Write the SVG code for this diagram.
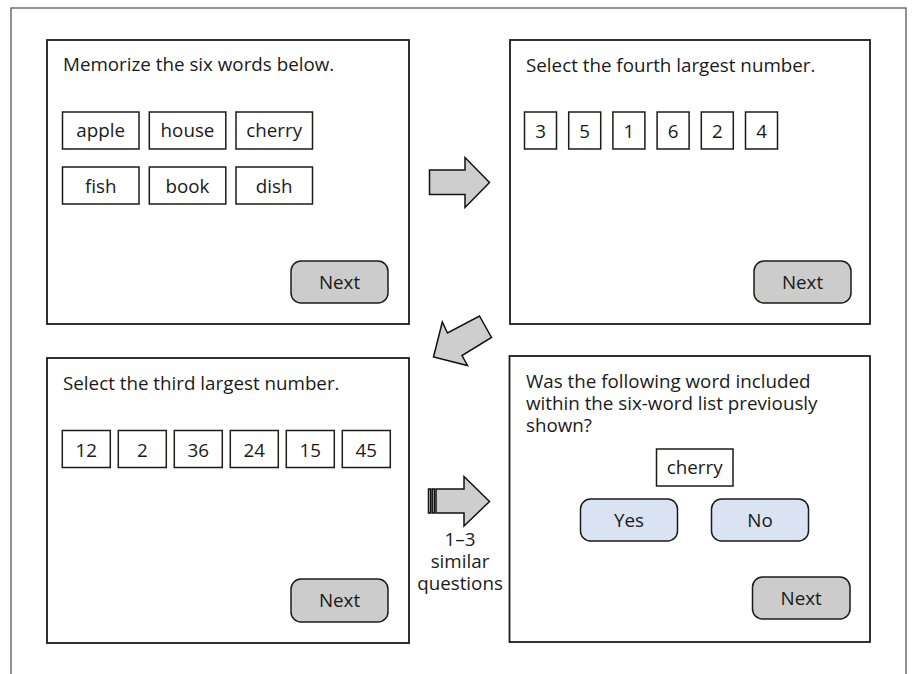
<svg xmlns="http://www.w3.org/2000/svg" width="912" height="674" viewBox="0 0 912 674">
  <style>
    .frame { fill: none; stroke: #5a5a5a; stroke-width: 1.3; }
    .panel { fill: #ffffff; stroke: #1d1b18; stroke-width: 1.8; }
    .box { fill: #ffffff; stroke: #1d1b18; stroke-width: 1.5; }
    .btn { fill: #cbcccb; stroke: #1d1b18; stroke-width: 1.5; }
    .choice { fill: #dae3f3; stroke: #1d1b18; stroke-width: 1.5; }
    .arrow { fill: #cdcecd; stroke: #111111; stroke-width: 1.5; stroke-linejoin: miter; }
    text { font-family: "Open Sans", "Noto Sans", "Liberation Sans", sans-serif; font-size: 18.8px; fill: #1a1a1a; }
    .c { text-anchor: middle; }
  </style>

  <!-- outer border (open at the bottom) -->
  <rect class="frame" x="11" y="8" width="895" height="720"/>

  <!-- screen 1: word list -->
  <g id="screen-memorize">
    <rect class="panel" x="47" y="40" width="362" height="284"/>
    <text x="63" y="71">Memorize the six words below.</text>
    <rect class="box" x="62.5" y="112" width="76.5" height="37"/>
    <rect class="box" x="149.3" y="112" width="76.5" height="37"/>
    <rect class="box" x="236" y="112" width="76.5" height="37"/>
    <rect class="box" x="62.5" y="167" width="76.5" height="37"/>
    <rect class="box" x="149.3" y="167" width="76.5" height="37"/>
    <rect class="box" x="236" y="167" width="76.5" height="37"/>
    <text class="c" x="100.7" y="136.5">apple</text>
    <text class="c" x="187.5" y="136.5">house</text>
    <text class="c" x="274.2" y="136.5">cherry</text>
    <text class="c" x="100.7" y="193">fish</text>
    <text class="c" x="187.5" y="193">book</text>
    <text class="c" x="274.2" y="193">dish</text>
    <rect class="btn" x="291" y="261" width="97" height="42" rx="10"/>
    <text class="c" x="339.5" y="288.5">Next</text>
  </g>

  <!-- screen 2: fourth largest -->
  <g id="screen-fourth">
    <rect class="panel" x="510" y="40" width="360" height="284"/>
    <text x="526" y="72">Select the fourth largest number.</text>
    <rect class="box" x="524.5" y="112" width="32" height="37"/>
    <rect class="box" x="568.7" y="112" width="32" height="37"/>
    <rect class="box" x="612.9" y="112" width="32" height="37"/>
    <rect class="box" x="657.1" y="112" width="32" height="37"/>
    <rect class="box" x="701.3" y="112" width="32" height="37"/>
    <rect class="box" x="745.5" y="112" width="32" height="37"/>
    <text class="c" x="540.5" y="138">3</text>
    <text class="c" x="584.7" y="138">5</text>
    <text class="c" x="628.9" y="138">1</text>
    <text class="c" x="673.1" y="138">6</text>
    <text class="c" x="717.3" y="138">2</text>
    <text class="c" x="761.5" y="138">4</text>
    <rect class="btn" x="754" y="261" width="97" height="42" rx="10"/>
    <text class="c" x="802.5" y="288.5">Next</text>
  </g>

  <!-- screen 3: third largest -->
  <g id="screen-third">
    <rect class="panel" x="47" y="358" width="362" height="285"/>
    <text x="63" y="390">Select the third largest number.</text>
    <rect class="box" x="62.3" y="430.5" width="48" height="37"/>
    <rect class="box" x="118.3" y="430.5" width="48" height="37"/>
    <rect class="box" x="174.3" y="430.5" width="48" height="37"/>
    <rect class="box" x="230.3" y="430.5" width="48" height="37"/>
    <rect class="box" x="286.3" y="430.5" width="48" height="37"/>
    <rect class="box" x="342.3" y="430.5" width="48" height="37"/>
    <text class="c" x="86.3" y="457">12</text>
    <text class="c" x="142.3" y="457">2</text>
    <text class="c" x="198.3" y="457">36</text>
    <text class="c" x="254.3" y="457">24</text>
    <text class="c" x="310.3" y="457">15</text>
    <text class="c" x="366.3" y="457">45</text>
    <rect class="btn" x="291" y="579" width="97" height="43" rx="10"/>
    <text class="c" x="339.5" y="607">Next</text>
  </g>

  <!-- screen 4: recall question -->
  <g id="screen-recall">
    <rect class="panel" x="509.5" y="356" width="360.5" height="286"/>
    <text x="526" y="388">Was the following word included</text>
    <text x="526" y="410">within the six-word list previously</text>
    <text x="526" y="431.5">shown?</text>
    <rect class="box" x="656.5" y="449" width="76.5" height="37"/>
    <text class="c" x="694.7" y="473.5">cherry</text>
    <rect class="choice" x="580.5" y="499" width="97" height="42" rx="10"/>
    <text class="c" x="629" y="526.5">Yes</text>
    <rect class="choice" x="711.5" y="499" width="97" height="42" rx="10"/>
    <text class="c" x="760" y="526.5">No</text>
    <rect class="btn" x="752.5" y="577" width="97.5" height="42" rx="10"/>
    <text class="c" x="801.2" y="604.5">Next</text>
  </g>

  <!-- flow arrows between screens -->
  <g id="connectors">
    <polygon class="arrow" points="429.5,170 465,170 465,157.5 489.5,182.5 465,207.5 465,194.5 429.5,194.5"/>
    <polygon class="arrow" points="479.5,316 491.5,337.5 462,355.5 467.5,365.5 433.5,357 442.3,322 447.5,333"/>
    <!-- striped arrow: repeated questions -->
    <rect class="arrow" x="428.5" y="489" width="2.2" height="24"/>
    <rect class="arrow" x="432.2" y="489" width="2.2" height="24"/>
    <polygon class="arrow" points="436,489 464,489 464,476.5 489.5,501.5 464,526 464,513 436,513"/>
    <text class="c" x="460" y="546">1–3</text>
    <text class="c" x="460" y="568">similar</text>
    <text class="c" x="460" y="589.5">questions</text>
  </g>
</svg>
